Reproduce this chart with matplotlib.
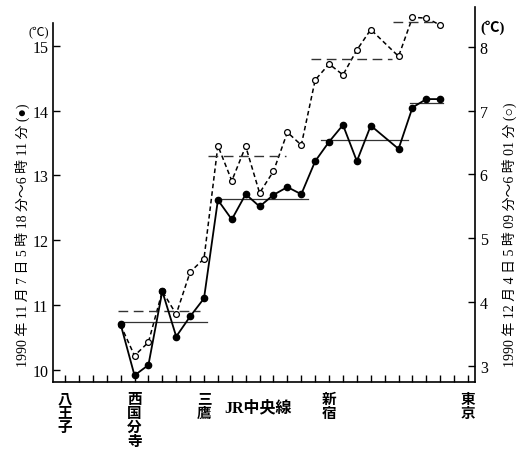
import matplotlib
matplotlib.use("Agg")
import matplotlib.pyplot as plt

plt.rcParams["font.family"] = ["Liberation Serif", "Noto Sans CJK JP", "DejaVu Sans"]

# station index along the JR Chuo line (八王子 = 0 ... 東京 = 29)
pos = [4, 5, 6, 7, 8, 9, 10, 11, 12, 13, 14, 15, 16, 17, 18, 19, 20, 21, 22, 24, 25, 26, 27]
nov7 = [10.70, 9.91, 10.07, 11.21, 10.51, 10.82, 11.10, 12.62, 12.32, 12.71, 12.52, 12.70,
        12.82, 12.71, 13.22, 13.52, 13.78, 13.22, 13.77, 13.41, 14.05, 14.18, 14.18]
dec4 = [3.64, 3.16, 3.37, 4.17, 3.81, 4.47, 4.68, 6.45, 5.90, 6.44, 5.71, 6.05,
        6.66, 6.46, 7.48, 7.73, 7.56, 7.95, 8.27, 7.85, 8.46, 8.45, 8.34]

# section means (start, end, value)
nov7_means = [(3.9, 10.2, 10.74), (11.0, 17.5, 12.64), (18.4, 24.7, 13.54), (24.8, 27.2, 14.12)]
dec4_means = [(3.8, 9.7, 3.86), (10.3, 15.9, 6.29), (17.7, 23.5, 7.81), (23.6, 26.5, 8.39)]

stations = ["八王子", "西国分寺", "三鷹", "新宿", "東京"]
station_pos = [0, 5, 10, 19, 29]

fig = plt.figure(figsize=(5.18, 4.56), dpi=100)
ax = fig.add_axes([0.103, 0.159, 0.814, 0.823])
ax2 = ax.twinx()
# filled series drawn above the open one
ax.set_zorder(ax2.get_zorder() + 1)
ax.patch.set_visible(False)

ax.plot(pos, nov7, "-", color="black", lw=1.3, marker="o", ms=4.5,
        mfc="black", mec="black", zorder=3)
ax2.plot(pos, dec4, color="black", lw=1.1, ls=(0, (3, 2)), marker="o", ms=4.2,
         mfc="white", mec="black", mew=0.9, zorder=2)

for x0, x1, v in nov7_means:
    ax.plot([x0, x1], [v, v], color="#333333", lw=0.9)
for x0, x1, v in dec4_means:
    ax2.plot([x0, x1], [v, v], color="#333333", lw=1.0, ls=(0, (7, 4)))

ax.set_xlim(-0.84, 29.5)
ax.set_ylim(9.8, 15.6)
ax2.set_ylim(2.74, 8.62)

ax.set_yticks([10, 11, 12, 13, 14, 15])
ax2.set_yticks([3, 4, 5, 6, 7, 8])
ax.set_xticks(range(30))
ax.set_xticklabels([])

for a in (ax, ax2):
    a.spines["top"].set_visible(False)
    a.tick_params(direction="in", length=5, width=1, labelsize=11.5)
ax.spines["left"].set_bounds(9.8, 15.36)
ax2.spines["left"].set_visible(False)
ax2.spines["bottom"].set_visible(False)
ax.spines["right"].set_visible(False)
ax2.spines["right"].set_linewidth(1.2)
ax.spines["left"].set_linewidth(1.2)
ax.spines["bottom"].set_linewidth(1.2)

for name, p in zip(stations, station_pos):
    ax.text(p, -0.027, "\n".join(name), transform=ax.get_xaxis_transform(),
            ha="center", va="top", fontsize=10.5, fontweight="bold", linespacing=1.1)
ax.text(13.9, -0.045, "JR中央線", transform=ax.get_xaxis_transform(),
        ha="center", va="top", fontsize=11.5, fontweight="bold")

fig.text(39 / 518, 1 - 32 / 456, "(℃)", ha="center", va="center", fontsize=9)
fig.text(493 / 518, 1 - 28 / 456, "(℃)", ha="center", va="center", fontsize=10.5,
         fontweight="bold")

fig.text(22 / 518, 1 - 235 / 456, "1990 年 11 月 7 日 5 時 18 分～6 時 11 分 (●)",
         rotation=90, ha="center", va="center", fontsize=10)
fig.text(509 / 518, 1 - 235 / 456, "1990 年 12 月 4 日 5 時 09 分～6 時 01 分 (○)",
         rotation=90, ha="center", va="center", fontsize=10)

fig.savefig("out.png", dpi=100)
